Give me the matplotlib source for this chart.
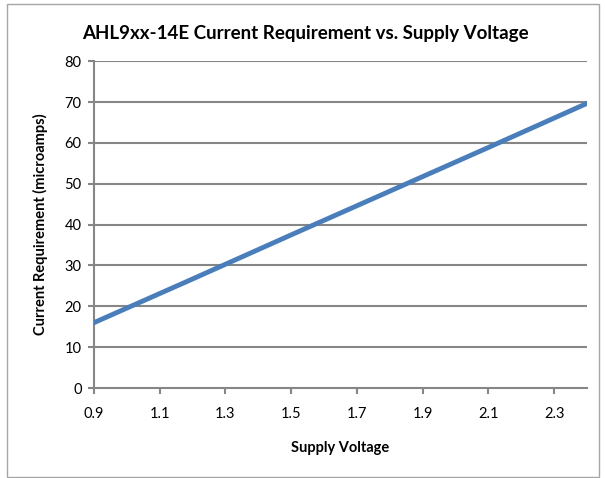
import matplotlib.pyplot as plt
from matplotlib.patches import Rectangle

# data
voltage = [0.9, 1.2, 1.5, 1.8, 2.1, 2.4]
current = [16.0, 26.7, 37.5, 48.2, 58.9, 69.7]
xticks = [0.9, 1.1, 1.3, 1.5, 1.7, 1.9, 2.1, 2.3]
yticks = [0, 10, 20, 30, 40, 50, 60, 70, 80]

plt.rcParams['font.family'] = ['Lato', 'DejaVu Sans']

fig = plt.figure(figsize=(6.05, 4.78), dpi=100)
fig.patches.append(Rectangle((7 / 605, 1 - 477 / 478), 592 / 605, 473 / 478,
                             transform=fig.transFigure, fill=False,
                             edgecolor='#a6a6a6', linewidth=1.0))

ax = fig.add_axes([94 / 605, 1 - 388 / 478, 493 / 605, (388 - 61.3) / 478])
grid_c = '#868686'
for y in yticks[1:]:
    ax.axhline(y, color=grid_c, linewidth=1.5, zorder=1)

ax.plot(voltage, current, color='#4a7ebb', linewidth=3.5,
        solid_capstyle='round', zorder=3)

ax.set_xlim(0.9, 2.4)
ax.set_ylim(0, 80)
ax.set_xticks(xticks)
ax.set_xticklabels(['%.1f' % v for v in xticks])
ax.set_yticks(yticks)

for s in ['top', 'right']:
    ax.spines[s].set_visible(False)
for s in ['left', 'bottom']:
    ax.spines[s].set_color(grid_c)
    ax.spines[s].set_linewidth(1.5)
ax.tick_params(axis='both', color=grid_c, width=1.5, length=4,
               labelsize=10.5, labelcolor='#000000', pad=5)
ax.tick_params(axis='x', pad=10)

ax.set_xlabel('Supply Voltage', fontsize=10.5, fontweight='bold', labelpad=14)
ax.set_ylabel('Current Requirement (microamps)', fontsize=10.5,
              fontweight='bold', labelpad=12)
fig.text(305 / 605, 1 - 33 / 478, 'AHL9xx-14E Current Requirement vs. Supply Voltage',
         ha='center', va='center', fontsize=13.5, fontweight='bold')

fig.savefig('out.png', dpi=100)
